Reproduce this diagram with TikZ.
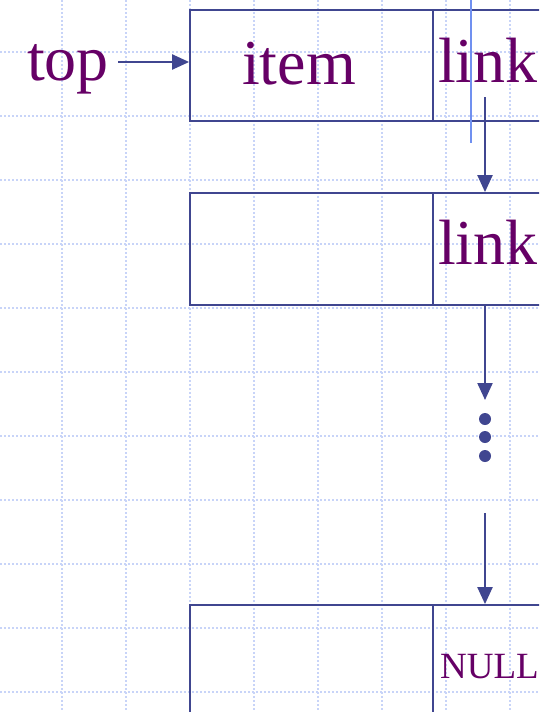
\documentclass[tikz,border=0pt]{standalone}
\usepackage{fontspec}
\setmainfont{Liberation Serif}
\usepackage{tikz}
\usetikzlibrary{arrows.meta,positioning,calc}
\usepackage{xcolor}
\definecolor{boxblue}{HTML}{404690}
\definecolor{textpurple}{HTML}{660066}
\definecolor{gridblue}{HTML}{C8D4F8}
\definecolor{markblue}{HTML}{7090F0}

\begin{document}
\begin{tikzpicture}[x=1pt, y=-1pt,
    gridline/.style={gridblue, line width=1.5pt, dash pattern=on 2pt off 2pt},
    cell/.style={draw=boxblue, line width=1.8pt, inner sep=0pt},
    ptr/.style={-{Triangle[length=17pt,width=15pt]}, boxblue, line width=2.2pt},
    word/.style={textpurple, anchor=base west, inner sep=0pt, font=\fontsize{64}{64}\selectfont}]
        \useasboundingbox (0,0) rectangle (539,712);
        \clip (0,0) rectangle (539,712);

        % Grid
        \foreach \x in {62,126,...,510} \draw[gridline] (\x,0) -- (\x,712);
        \foreach \y in {52,116,...,692} \draw[gridline] (0,\y) -- (539,\y);

        % Boxes
        \node[cell, minimum width=243pt, minimum height=111pt] (item1) at (311.5,65.5) {};
        \node[cell, minimum width=207pt, minimum height=111pt] (link1) at (536.5,65.5) {};
        \node[cell, minimum width=243pt, minimum height=112pt] (item2) at (311.5,249) {};
        \node[cell, minimum width=207pt, minimum height=112pt] (link2) at (536.5,249) {};
        \node[cell, minimum width=243pt, minimum height=112pt] (item3) at (311.5,661) {};
        \node[cell, minimum width=207pt, minimum height=112pt] (link3) at (536.5,661) {};

        % Labels
        \node[word] (toplabel) at (27,80) {top};
        \node[word] (itemlabel) at (242,84) {item};
        \node[word] (linklabel1) at (438,82) {link};
        \node[word] (linklabel2) at (438,264) {link};
        \node[word, font=\fontsize{37}{37}\selectfont] (nulllabel) at (440,678) {NULL};

        % Marker line
        \draw[markblue, line width=1.3pt] (471,0) -- (471,143);

        % Pointers
        \coordinate (topstart) at (118,62);
        \coordinate (a1) at (485,97);
        \coordinate (a2) at (485,400);
        \coordinate (a3) at (485,513);
        \draw[ptr] (topstart) -- (topstart -| item1.west);
        \draw[ptr] (a1) -- (a1 |- link2.north);
        \draw[ptr] (a2 |- link2.south) -- (a2);
        \draw[ptr] (a3) -- (a3 |- link3.north);

        % Dots
        \foreach \y in {419,437,456} \fill[boxblue] (485,\y) circle (6pt);
    \end{tikzpicture}
\end{document}
